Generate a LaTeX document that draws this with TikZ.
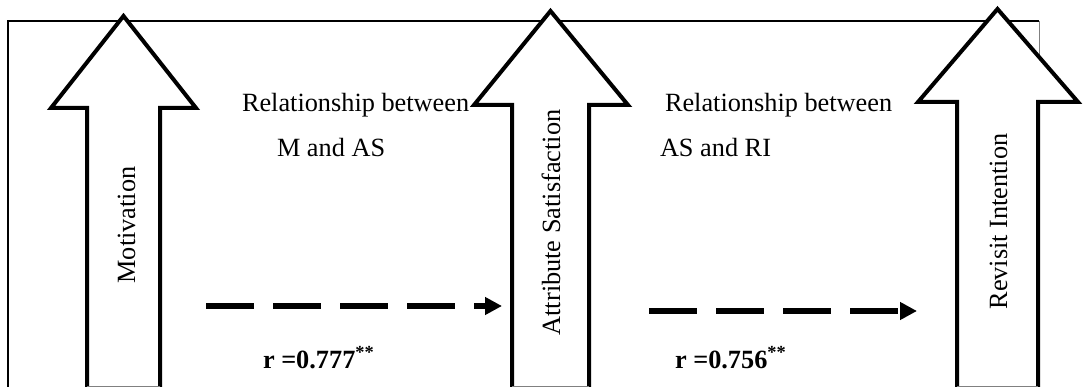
\documentclass[tikz,border=0pt]{standalone}
\usepackage{fontspec}
\setmainfont{Liberation Serif}
\usetikzlibrary{arrows.meta}
\tikzset{
  bigarrow/.style={draw=black, fill=white, line width=4pt, line join=miter, miter limit=10},
  frameline/.style={line width=1.8pt},
  lbl/.style={inner sep=0pt, outer sep=0pt, anchor=base west, font=\fontsize{26.3}{30}\selectfont},
  vlbl/.style={inner sep=0pt, outer sep=0pt, anchor=base, rotate=90, font=\fontsize{26.3}{30}\selectfont},
  rlbl/.style={inner sep=0pt, outer sep=0pt, anchor=base west, font=\fontsize{26.3}{30}\selectfont\bfseries},
  dasharrow/.style={line width=6pt, dash pattern=on 48pt off 19pt, -{Triangle[length=17pt,width=17pt]}}
}
\begin{document}
\begin{tikzpicture}[x=1pt,y=-1pt]
\useasboundingbox (0,0) rectangle (1086,387);
% frame
\draw[frameline] (8,400) -- (8,21) -- (1039,21);
\draw[gray, line width=1pt] (1039,21) -- (1039,400);
% arrow 1
\draw[bigarrow] (87,387) -- (87,108) -- (51,108) -- (123.5,16) -- (196,108) -- (160,108) -- (160,387);
\draw[gray, line width=1pt] (87,386) -- (160,386);
% arrow 2
\draw[bigarrow] (512,387) -- (512,105) -- (474,105) -- (550.5,11) -- (628,105) -- (589,105) -- (589,387);
\draw[gray, line width=1pt] (512,386) -- (589,386);
% arrow 3
\draw[bigarrow] (957,387) -- (957,102) -- (918,102) -- (997.5,9) -- (1078,102) -- (1038,102) -- (1038,387);
\draw[gray, line width=1pt] (957,386) -- (1038,386);
% vertical labels
\node[vlbl] (mot) at (135,225) {Motivation};
\node[vlbl] (as) at (560,222.5) {Attribute Satisfaction};
\node[vlbl] (ri) at (1007,221.5) {Revisit Intention};
% relationship texts
\node[lbl] (rel1) at (242,112) {Relationship between};
\node[lbl] (rel1b) at (277,157) {M and AS};
\node[lbl] (rel2) at (665,112) {Relationship between};
\node[lbl] (rel2b) at (660,157) {AS and RI};
% dashed connectors
\coordinate (d1s) at (206,306);
\coordinate (d1e) at (502,306);
\coordinate (d2s) at (649,311);
\coordinate (d2e) at (917,311);
\draw[dasharrow] (d1s) -- (d1e);
\draw[dasharrow] (d2s) -- (d2e);
% r values
\node[rlbl] (r1) at (263,368) {r =0.777\textsuperscript{**}};
\node[rlbl] (r2) at (675,368) {r =0.756\textsuperscript{**}};
\end{tikzpicture}
\end{document}
